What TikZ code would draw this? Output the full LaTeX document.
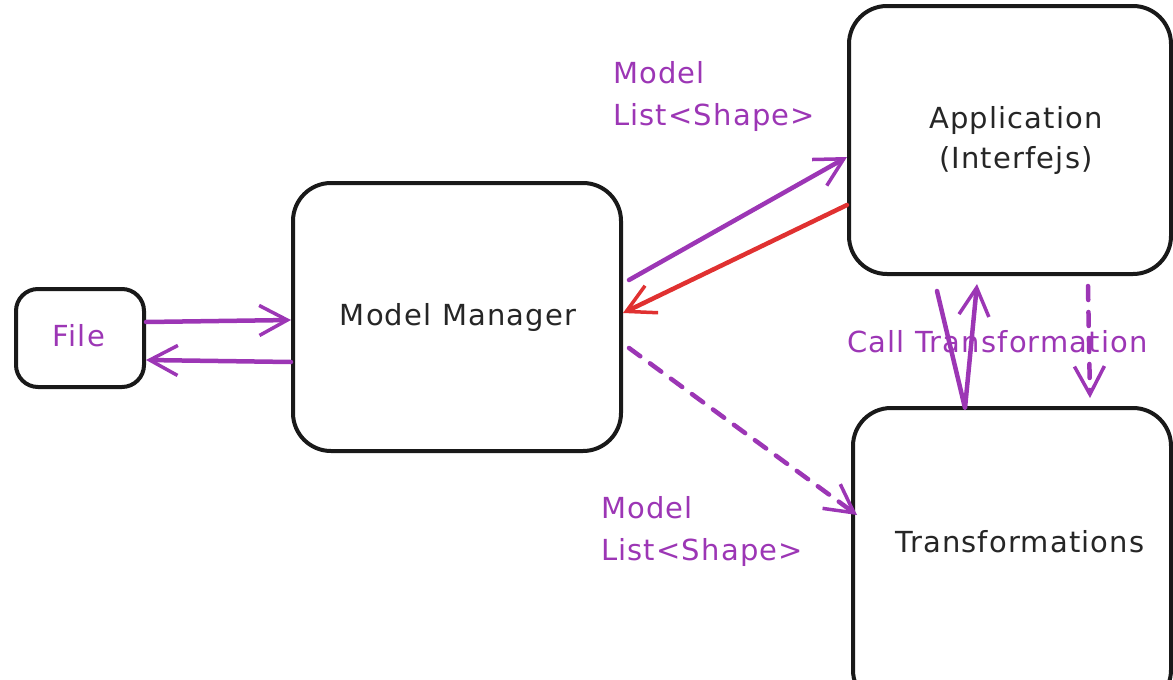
\documentclass[tikz,border=0pt]{standalone}
\usepackage{fontspec}
\setmainfont{DejaVu Sans}[LetterSpace=4]
\usetikzlibrary{arrows.meta}
\definecolor{vio}{HTML}{9C36B5}
\definecolor{rd}{HTML}{E03131}
\tikzset{
  x=1pt,y=1pt,
  box/.style={draw=black!90,line width=4pt,rounded corners=#1,fill=white,inner sep=0pt},
  box/.default=30pt,
  txt/.style={font=\fontsize{29}{40}\selectfont,text=black!85,align=center,inner sep=0pt},
  lbl/.style={text=vio,font=\fontsize{29}{42}\selectfont,align=left,inner sep=0pt},
  conn/.style={line width=4.5pt,line cap=round,line join=round,-{Straight Barb[length=28pt,width=30pt,line width=3.5pt]}},
  pconn/.style={conn,draw=vio},
  rconn/.style={conn,draw=rd},
}
\begin{document}
\begin{tikzpicture}
\useasboundingbox (0,0) rectangle (1173,-680);
\clip (0,0) rectangle (1173,-680);
\node[box=22pt,minimum width=128pt,minimum height=98pt] (file) at (80,-338) {};
\node[lbl,align=center] (filet) at (79,-336) {File};
\node[box=38pt,minimum width=328pt,minimum height=268pt] (mm) at (457,-317) {};
\node[txt] (mmt) at (458,-317) {Model Manager};
\node[box=38pt,minimum width=322pt,minimum height=268pt] (app) at (1010,-140) {};
\node[txt] (appt) at (1016,-140) {Application\\(Interfejs)};
\node[box=38pt,minimum width=318pt,minimum height=300pt] (tr) at (1012,-558) {};
\node[txt] (trt) at (1020,-542) {Transformations};

\draw[pconn] ([yshift=16pt]file.east) -- ([yshift=-3pt]mm.west);
\draw[pconn] ([yshift=-45pt]mm.west) -- ([yshift=-22pt]file.east);
\draw[pconn] ([xshift=6pt,yshift=37pt]mm.east) -- ([yshift=-17pt]app.west);
\draw[rconn] ([yshift=-65pt]app.west) -- ([yshift=4pt]mm.east);
\draw[pconn,dashed,dash pattern=on 14pt off 12pt] ([xshift=6pt,yshift=-31pt]mm.east) -- ([xshift=6pt,yshift=43pt]tr.west);
\draw[pconn] ([xshift=-73pt,yshift=-15pt]app.south) -- ([xshift=-47pt,yshift=-2pt]tr.north) -- ([xshift=-33pt,yshift=-8pt]app.south);
\draw[pconn,dashed,dash pattern=on 14pt off 12pt] ([xshift=78pt,yshift=-10pt]app.south) -- ([xshift=78pt,yshift=8pt]tr.north);

\node[lbl,anchor=west] (l1) at (613,-96) {Model\\List<Shape>};
\node[lbl,anchor=west] (l2) at (601,-531) {Model\\List<Shape>};
\node[lbl,anchor=west] (l3) at (847,-342) {Call Transformation};
\end{tikzpicture}
\end{document}
